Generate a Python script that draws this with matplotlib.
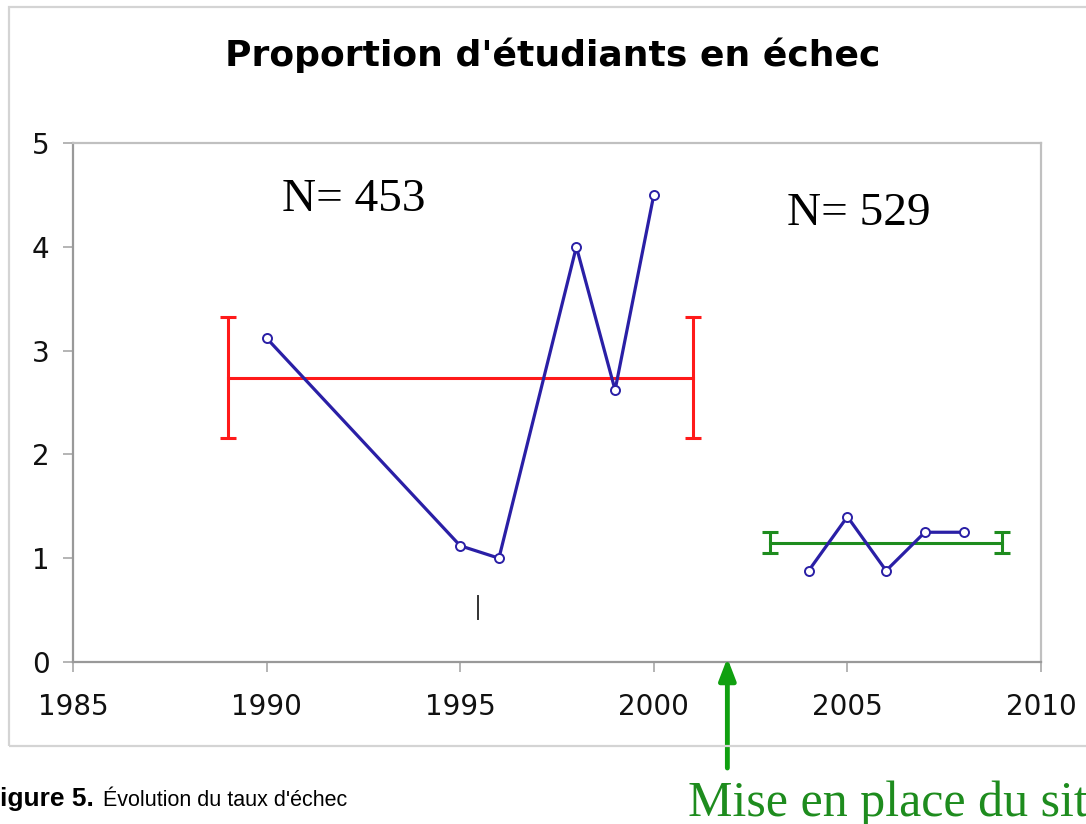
import matplotlib.pyplot as plt
from matplotlib.patches import Rectangle

# --- DATA ---
years_before = [1990, 1995, 1996, 1998, 1999, 2000]
rate_before = [3.12, 1.12, 1.0, 4.0, 2.62, 4.5]
years_after = [2004, 2005, 2006, 2007, 2008]
rate_after = [0.88, 1.4, 0.88, 1.25, 1.25]

# mean +/- error, drawn over a span of years
mean_before_span = [1989, 2001]
mean_before = 2.74
err_before = 0.58
mean_after_span = [2003, 2009]
mean_after = 1.15
err_after = 0.10

n_labels = ["N= 453", "N= 529"]
n_label_pos = [(1990.4, 4.45), (2003.45, 4.32)]

stray_mark_x = [1995.45, 1995.45]
stray_mark_y = [0.41, 0.64]

site_year = 2001.9

x_ticks = [1985, 1990, 1995, 2000, 2005, 2010]
y_ticks = [0, 1, 2, 3, 4, 5]

COLOR_LINE = '#2a1fa6'
COLOR_RED = '#ff1a1a'
COLOR_GREEN = '#1e8c1e'
COLOR_ARROW = '#10a010'
COLOR_SPINE = '#a8a8a8'

W, H = 1086, 824
fig = plt.figure(figsize=(W / 100, H / 100), dpi=100)
fig.patch.set_facecolor('white')

# outer chart frame (right edge runs off the picture)
fig.patches.append(Rectangle((9 / W, 1 - 746 / H), 1.2, (746 - 7) / H,
                             transform=fig.transFigure, fill=False,
                             edgecolor='#d4d4d4', linewidth=1.6))

ax = fig.add_axes([73 / W, 1 - 662 / H, (1041 - 73) / W, (662 - 143) / H])
ax.set_xlim(1985, 2010)
ax.set_ylim(0, 5)
ax.set_xticks(x_ticks)
ax.set_yticks(y_ticks)
for name, s in ax.spines.items():
    s.set_color('#999999' if name in ('left', 'bottom') else '#c0c0c0')
    s.set_linewidth(1.6)
ax.tick_params(axis='both', direction='out', length=7, width=1.2, color=COLOR_SPINE,
               labelsize=20, labelcolor='#111111')
ax.tick_params(axis='y', pad=10)
ax.tick_params(axis='x', pad=15)

# mean lines with error bars at both ends
ax.plot(mean_before_span, [mean_before] * 2, color=COLOR_RED, linewidth=2.2, zorder=2)
ax.errorbar(mean_before_span, [mean_before] * 2, yerr=err_before, fmt='none',
            ecolor=COLOR_RED, elinewidth=2.2, capsize=6, capthick=2.2, zorder=2)
ax.plot(mean_after_span, [mean_after] * 2, color=COLOR_GREEN, linewidth=2.2, zorder=2)
ax.errorbar(mean_after_span, [mean_after] * 2, yerr=err_after, fmt='none',
            ecolor=COLOR_GREEN, elinewidth=2.2, capsize=6, capthick=2.2, zorder=2)

# yearly series
for xs, ys in [(years_before, rate_before), (years_after, rate_after)]:
    ax.plot(xs, ys, color=COLOR_LINE, linewidth=2.3, marker='o', markersize=6.5,
            markerfacecolor='white', markeredgecolor=COLOR_LINE, markeredgewidth=1.4, zorder=3)

ax.plot(stray_mark_x, stray_mark_y, color='#333333', linewidth=1.4)

for txt, (x, y) in zip(n_labels, n_label_pos):
    ax.text(x, y, txt, fontsize=34, family='Liberation Serif', color='black',
            ha='left', va='center')

fig.text(553 / W, 1 - 55 / H, "Proportion d'étudiants en échec", fontsize=26,
         fontweight='bold', ha='center', va='center', color='black')

# arrow marking the site launch, pointing at the x axis
x_arrow = ax.transData.transform((site_year, 0))[0] / W
ax.annotate('', xy=(x_arrow, 1 - 658 / H), xytext=(x_arrow, 1 - 768 / H),
            xycoords='figure fraction', textcoords='figure fraction',
            arrowprops=dict(arrowstyle='-|>,head_length=1.3,head_width=0.5',
                            color=COLOR_ARROW, linewidth=3.5, shrinkA=0, shrinkB=0),
            annotation_clip=False)

fig.text(688 / W, 1 - 816 / H, "Mise en place du site", fontsize=36,
         family='Liberation Serif', color=COLOR_GREEN, ha='left', va='baseline')

fig.text(0, 1 - 806 / H, "igure 5.", fontsize=19, fontweight='bold',
         family='Liberation Sans', ha='left', va='baseline', color='black')
fig.text(103 / W, 1 - 806 / H, "Évolution du taux d'échec", fontsize=15.5,
         family='Liberation Sans', ha='left', va='baseline', color='black')

fig.savefig('out.png', dpi=100)
